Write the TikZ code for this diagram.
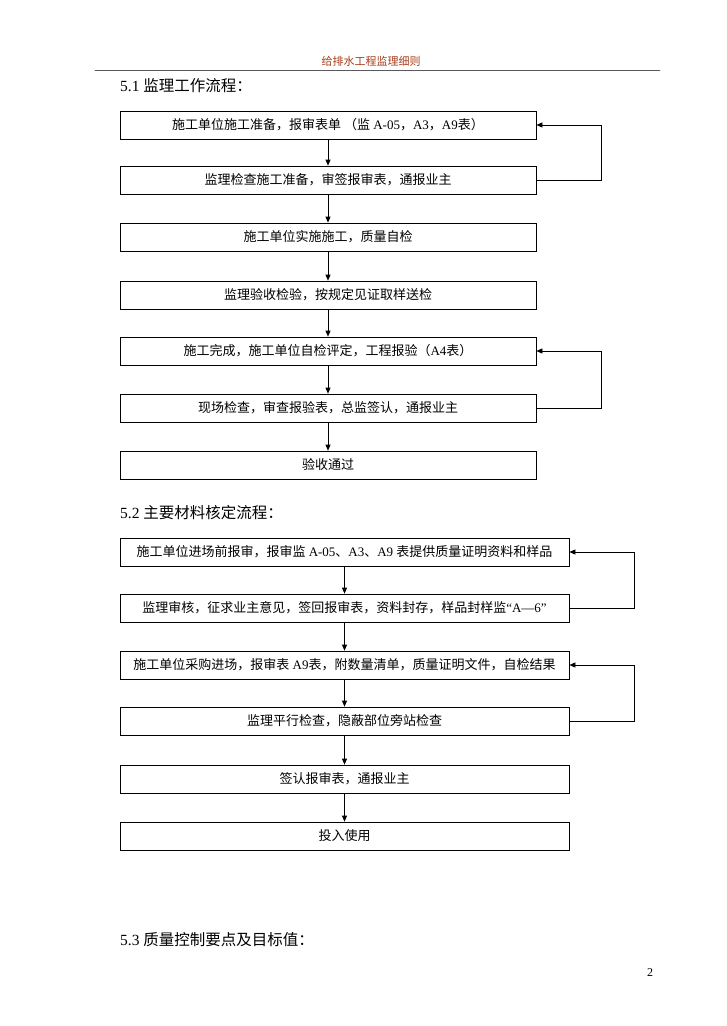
\documentclass[tikz,border=0pt]{standalone}
\usepackage{fontspec}
\setmainfont{Liberation Serif}
\newfontfamily\cjk{Noto Sans CJK SC}
\usetikzlibrary{arrows.meta}
\definecolor{headred}{RGB}{165,60,25}
\newcommand{\zh}[1]{{\cjk #1}}
\tikzset{
  stepbox/.style={draw,line width=0.7pt,minimum height=28pt,inner sep=2pt,font=\fontsize{13}{15}\selectfont},
  boxa/.style={stepbox,minimum width=416pt},
  boxb/.style={stepbox,minimum width=449pt},
  flow/.style={line width=0.7pt,-{Triangle[length=6pt,width=5pt]}},
  sectitle/.style={anchor=west,inner sep=0pt,font=\fontsize{15.5}{17}\selectfont}
}
\begin{document}
\begin{tikzpicture}[x=1pt,y=-1pt,line cap=round]
\useasboundingbox (0,0) rectangle (726,1026);
% header
\node[text=headred,font=\cjk\fontsize{11}{12}\selectfont] (head) at (371,61) {给排水工程监理细则};
\draw[line width=0.8pt,gray!70!black] (95,70) -- (660,70);
% 5.1
\node[sectitle] (t51) at (120,86) {5.1 \zh{监理工作流程：}};
\node[boxa] (a1) at (328,125) {\zh{施工单位施工准备，报审表单 （监} A-05\zh{，}A3\zh{，}A9\zh{表）}};
\node[boxa] (a2) at (328,180) {\zh{监理检查施工准备，审签报审表，通报业主}};
\node[boxa] (a3) at (328,237) {\zh{施工单位实施施工，质量自检}};
\node[boxa] (a4) at (328,295) {\zh{监理验收检验，按规定见证取样送检}};
\node[boxa] (a5) at (328,351) {\zh{施工完成，施工单位自检评定，工程报验（}A4\zh{表）}};
\node[boxa] (a6) at (328,408) {\zh{现场检查，审查报验表，总监签认，通报业主}};
\node[boxa] (a7) at (328,465) {\zh{验收通过}};
\coordinate (fa) at (601,0);
\foreach \i/\j in {1/2,2/3,3/4,4/5,5/6,6/7}
  \draw[flow] (a\i.south) -- (a\j.north);
\draw[flow] (a2.east) -- (a2.east -| fa) |- (a1.east);
\draw[flow] (a6.east) -- (a6.east -| fa) |- (a5.east);
% 5.2
\node[sectitle] (t52) at (120,513) {5.2 \zh{主要材料核定流程：}};
\node[boxb] (b1) at (344.5,552) {\zh{施工单位进场前报审，报审监} A-05\zh{、}A3\zh{、}A9 \zh{表提供质量证明资料和样品}};
\node[boxb] (b2) at (344.5,608) {\zh{监理审核，征求业主意见，签回报审表，资料封存，样品封样监}“A—6”};
\node[boxb] (b3) at (344.5,665) {\zh{施工单位采购进场，报审表} A9\zh{表，附数量清单，质量证明文件，自检结果}};
\node[boxb] (b4) at (344.5,721) {\zh{监理平行检查，隐蔽部位旁站检查}};
\node[boxb] (b5) at (344.5,779) {\zh{签认报审表，通报业主}};
\node[boxb] (b6) at (344.5,836) {\zh{投入使用}};
\coordinate (fb) at (634,0);
\foreach \i/\j in {1/2,2/3,3/4,4/5,5/6}
  \draw[flow] (b\i.south) -- (b\j.north);
\draw[flow] (b2.east) -- (b2.east -| fb) |- (b1.east);
\draw[flow] (b4.east) -- (b4.east -| fb) |- (b3.east);
% 5.3
\node[sectitle] (t53) at (120,940) {5.3 \zh{质量控制要点及目标值：}};
\node[font=\fontsize{12}{14}\selectfont] (pg) at (650,973) {2};
\end{tikzpicture}
\end{document}
